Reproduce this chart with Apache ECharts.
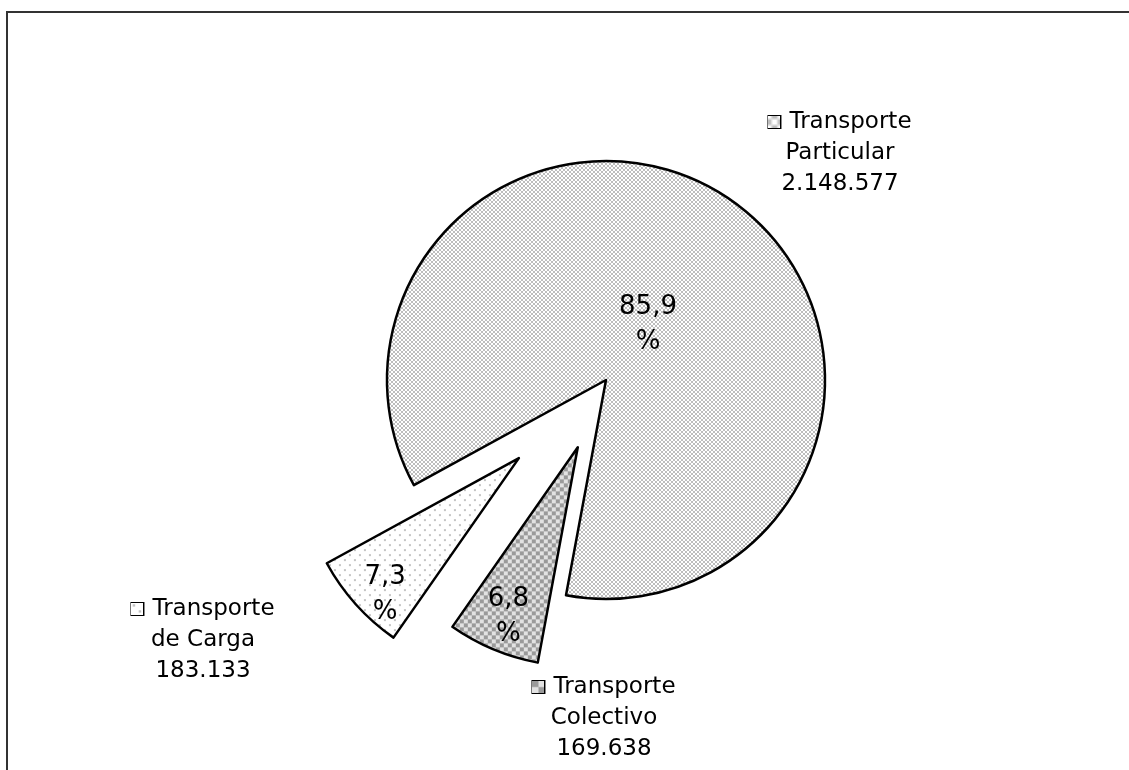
<!DOCTYPE html>
<html>
<head>
<meta charset="utf-8">
<title>Vehículos por tipo de transporte</title>
<script src="https://cdn.jsdelivr.net/npm/echarts@6/dist/echarts.min.js"></script>
<style>
  html, body { margin: 0; padding: 0; background: #fff; }
  #chart { width: 1129px; height: 770px; }
</style>
</head>
<body>
<div id="chart"></div>
<script>
const categories = ['Transporte Particular', 'Transporte Colectivo', 'Transporte de Carga'];
const vehicles = [2148577, 169638, 183133];

// small canvas tiles that imitate the excel fill patterns
function makeTile(w, h, draw) {
  const c = document.createElement('canvas');
  c.width = w;
  c.height = h;
  draw(c.getContext('2d'));
  return c;
}
const tileParticular = makeTile(4, 4, function (ctx) {
  ctx.fillStyle = '#bdbdbd';
  ctx.fillRect(0, 0, 4, 4);
  ctx.fillStyle = '#ffffff';
  for (let x = 0; x < 4; x++) {
    for (let y = 0; y < 4; y++) {
      if (x === y || x + y === 3) ctx.fillRect(x, y, 1, 1);
    }
  }
});
const tileColectivo = makeTile(8, 8, function (ctx) {
  ctx.fillStyle = '#e2e2e2';
  ctx.fillRect(0, 0, 8, 8);
  ctx.fillStyle = '#9a9a9a';
  ctx.fillRect(0, 0, 4, 4);
  ctx.fillRect(4, 4, 4, 4);
});
const tileCarga = makeTile(10, 10, function (ctx) {
  ctx.fillStyle = '#ffffff';
  ctx.fillRect(0, 0, 10, 10);
  ctx.fillStyle = '#c4c4c4';
  ctx.fillRect(1, 1, 2, 2);
  ctx.fillRect(6, 6, 2, 2);
});
const tiles = [tileParticular, tileColectivo, tileCarga];

// how far each slice is pulled out, and label placement
const explode = [0, 73, 117];
const pctShift = [[-24, 36], [-26, 66], [-50, 62]];
const namePos = [[840, 153], [604, 718], [203, 640]];

const fontFamily = '"DejaVu Sans", Verdana, sans-serif';

function fmtNum(v) {
  return String(v).replace(/\B(?=(\d{3})+(?!\d))/g, '.');
}
function pattern(i) {
  return { image: tiles[i], repeat: 'repeat' };
}
function keyBox(i) {
  return {
    width: 12, height: 12,
    borderColor: '#000', borderWidth: 2,
    backgroundColor: { image: tiles[i] }
  };
}

const center = [606, 380];
const radius = 219;
const startAngle = 208.7;

let series = [];

// one pie per slice so every slice can have its own pull-out distance
categories.forEach(function (name, i) {
  series.push({
    type: 'pie',
    center: center,
    radius: radius,
    startAngle: startAngle,
    clockwise: true,
    selectedMode: 'multiple',
    selectedOffset: explode[i],
    percentPrecision: 1,
    avoidLabelOverlap: false,
    animation: false,
    emphasis: { disabled: true, scale: false },
    select: { itemStyle: { color: pattern(i), borderColor: '#000', borderWidth: 2.5 } },
    labelLine: { show: false },
    label: {
      show: true,
      position: 'inside',
      color: '#000',
      fontFamily: fontFamily,
      fontSize: 26,
      lineHeight: 35,
      formatter: function (p) {
        return String(p.percent).replace('.', ',') + '\n%';
      }
    },
    labelLayout: function () {
      return { dx: pctShift[i][0], dy: pctShift[i][1] };
    },
    data: categories.map(function (n, j) {
      if (j !== i) {
        return {
          name: n, value: vehicles[j],
          itemStyle: { color: 'transparent', borderWidth: 0 },
          label: { show: false }
        };
      }
      return {
        name: n, value: vehicles[j],
        selected: explode[i] > 0,
        itemStyle: { color: pattern(i), borderColor: '#000', borderWidth: 2.5 }
      };
    })
  });
});

// invisible pie that only carries the name / value labels
series.push({
  type: 'pie',
  center: center,
  radius: radius,
  startAngle: startAngle,
  clockwise: true,
  silent: true,
  animation: false,
  avoidLabelOverlap: false,
  itemStyle: { color: 'transparent', borderWidth: 0 },
  labelLine: { show: false },
  label: {
    show: true,
    position: 'outside',
    color: '#000',
    fontFamily: fontFamily,
    fontSize: 23,
    lineHeight: 31,
    align: 'center',
    formatter: function (p) {
      const k = p.name.indexOf(' ');
      return '{b' + p.dataIndex + '|}{t|' + p.name.slice(0, k) + '}\n' +
        p.name.slice(k + 1) + '\n' + fmtNum(p.value);
    },
    rich: {
      t: { fontFamily: fontFamily, fontSize: 23, color: '#000', lineHeight: 31, padding: [0, 0, 0, 9] },
      b0: keyBox(0),
      b1: keyBox(1),
      b2: keyBox(2)
    }
  },
  labelLayout: function (p) {
    const pos = namePos[p.dataIndex];
    return { x: pos[0], y: pos[1], align: 'center', verticalAlign: 'middle' };
  },
  data: categories.map(function (n, j) {
    return { name: n, value: vehicles[j] };
  })
});

let myChart = echarts.init(document.getElementById('chart'));
myChart.setOption({
  backgroundColor: '#fff',
  animation: false,
  graphic: [
    {
      type: 'rect',
      silent: true,
      shape: { x: 7, y: 12, width: 1200, height: 800 },
      style: { fill: 'none', stroke: '#333', lineWidth: 2 }
    }
  ],
  series: series
});
</script>
</body>
</html>
